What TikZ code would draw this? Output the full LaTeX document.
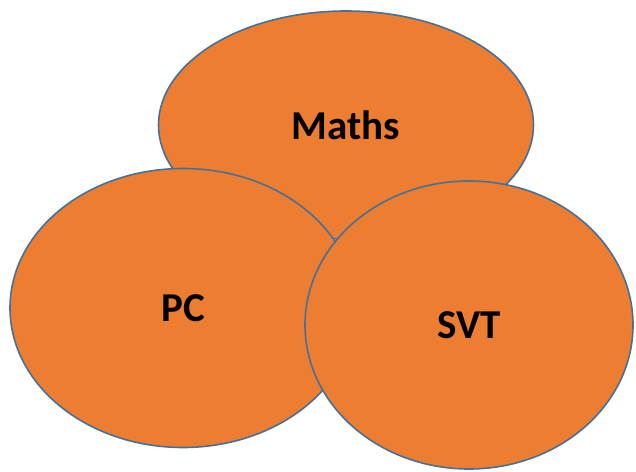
\documentclass[tikz,border=0pt]{standalone}
\usepackage{fontspec}
\setmainfont{Carlito}
\usetikzlibrary{shapes.geometric}
\definecolor{ED7D31}{HTML}{ED7D31}
\definecolor{41719C}{HTML}{41719C}
\begin{document}
\begin{tikzpicture}[x=1pt,y=-1pt,
    matiere/.style={ellipse,fill=ED7D31,draw=41719C,line width=1.6pt,inner sep=0,
        font=\bfseries\fontsize{41}{41}\selectfont}]
    \useasboundingbox(0,0)rectangle(636,471);
    \node[matiere,minimum width=375,minimum height=228](maths)at(346,125){Maths};
    \node[matiere,minimum width=346,minimum height=279](pc)at(183,308){PC};
    \node[matiere,minimum width=328,minimum height=288](svt)at(469,325){SVT};
\end{tikzpicture}
\end{document}
